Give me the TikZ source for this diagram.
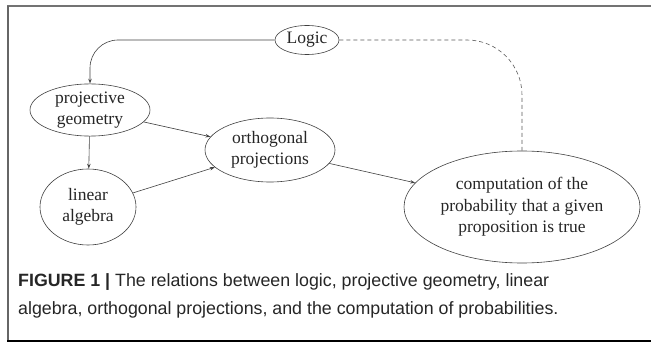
\documentclass[tikz,border=0pt]{standalone}
\usepackage{fontspec}
\setmainfont{Liberation Serif}
\newfontfamily\capfont{Liberation Sans}
\usetikzlibrary{shapes.geometric,arrows.meta}
\begin{document}
\begin{tikzpicture}[x=1pt,y=-1pt,
  bub/.style={draw=black!75,line width=0.6pt,ellipse,inner sep=0pt,align=center,
    font=\fontsize{17.5}{21.5}\selectfont,text=black!85},
  arr/.style={draw=black!75,line width=0.6pt,-{Stealth[length=5pt,width=3.5pt,open]}},
  dsh/.style={draw=black!65,line width=0.6pt,dash pattern=on 4pt off 3pt},
  captxt/.style={anchor=base west,inner sep=0pt,font=\capfont\fontsize{17.8}{27}\selectfont,text=black!85}]
\useasboundingbox (0,0) rectangle (651,342);
% frame
\draw[black!55,line width=2pt] (7,6.5) -- (651,6.5);
\draw[black!60,line width=1.2pt] (8,6) -- (8,341);
\draw[black,line width=1.2pt] (7.4,341) -- (651,341);
% nodes
\node[bub,minimum width=64pt,minimum height=29pt] (logic) at (307,40) {Logic};
\node[bub,minimum width=120pt,minimum height=50pt] (proj) at (90,110) {projective\\geometry};
\node[bub,minimum width=130pt,minimum height=64pt] (orth) at (270,150) {orthogonal\\projections};
\node[bub,minimum width=96pt,minimum height=76pt] (lin) at (88,207) {linear\\algebra};
\node[bub,minimum width=236pt,minimum height=112pt] (comp) at (522,207) {computation of the\\probability that a given\\proposition is true};
% connectors
\draw[arr,rounded corners=28pt] (logic.west) -| (proj.north);
\draw[dsh,rounded corners=55pt] (logic.east) -| (comp.north);
\draw[arr] (proj) -- (orth);
\draw[arr] (proj) -- (lin);
\draw[arr] (lin) -- (orth);
\draw[arr] (orth) -- (comp);
% caption
\node[captxt] (cap1) at (18,286) {\textbf{FIGURE 1 |} The relations between logic, projective geometry, linear};
\node[captxt] (cap2) at (18,314) {algebra, orthogonal projections, and the computation of probabilities.};
\end{tikzpicture}
\end{document}
